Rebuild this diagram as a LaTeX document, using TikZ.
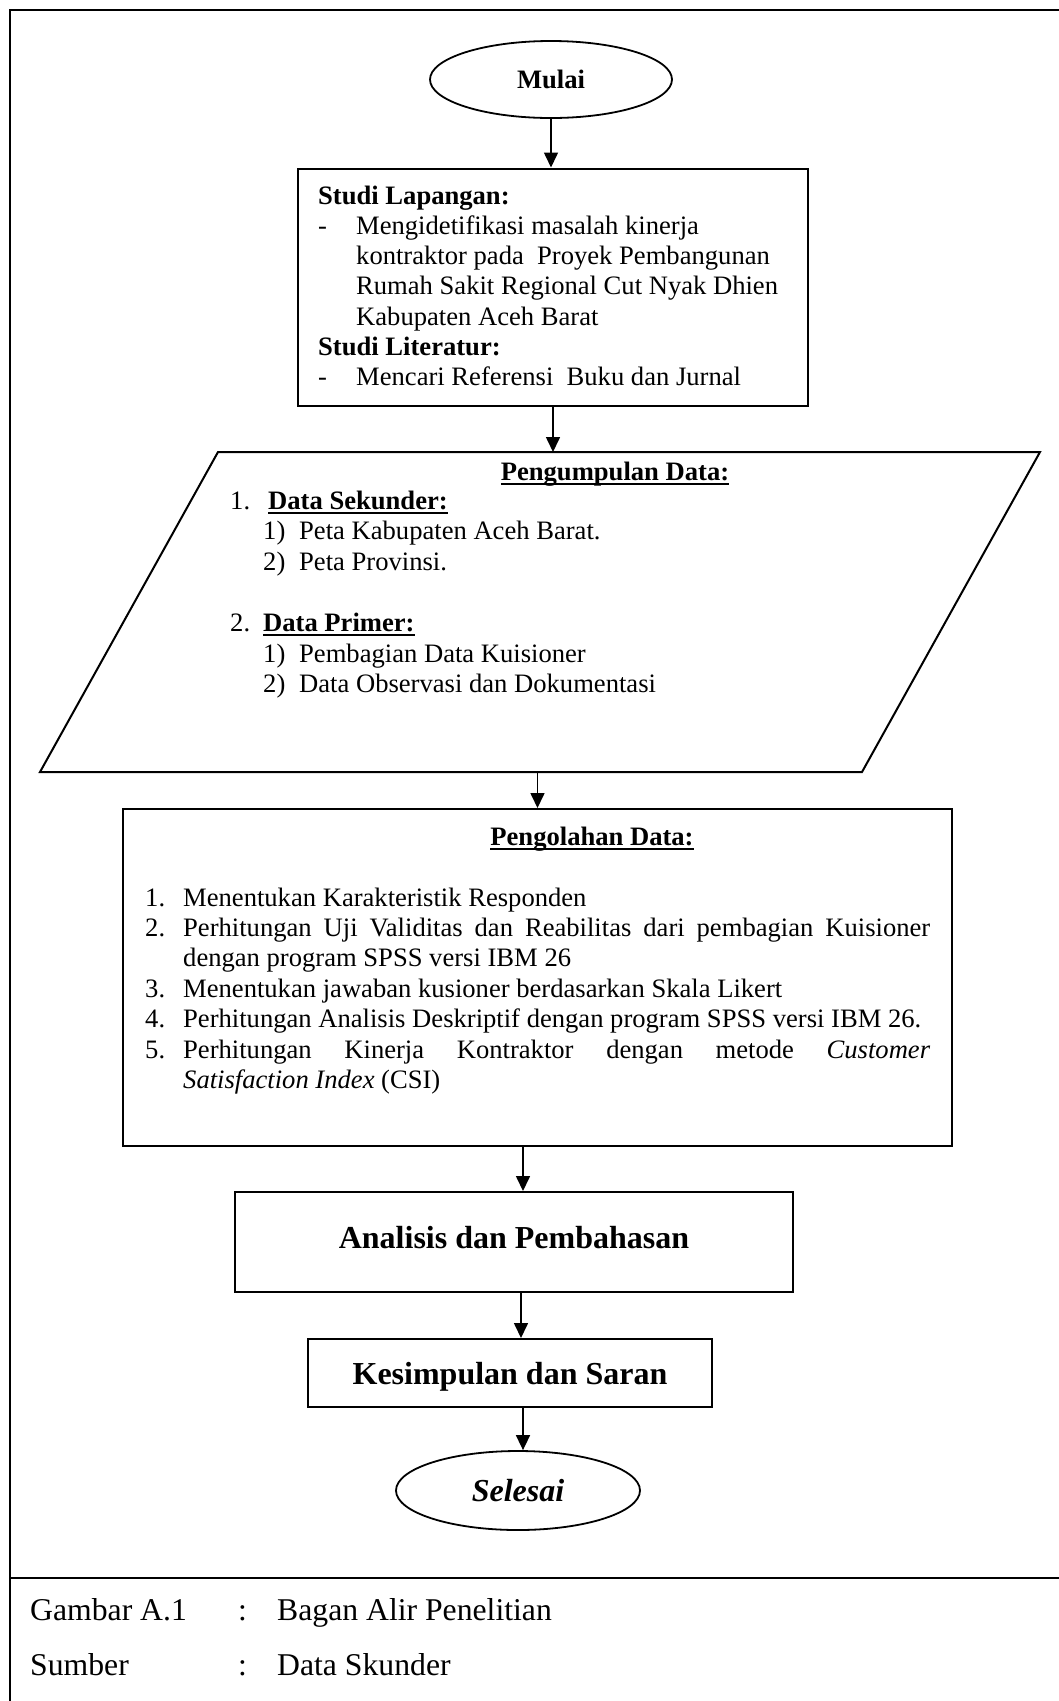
\documentclass[tikz,border=0pt]{standalone}
\usepackage{fontspec}
\setmainfont{Liberation Serif}
\usetikzlibrary{arrows.meta,shapes.geometric}
\newsavebox\ulbox
\newcommand\ulin[1]{\sbox\ulbox{#1}\rlap{\vrule width\wd\ulbox height -2.5pt depth 4.5pt}\usebox\ulbox}
\begin{document}
\begin{tikzpicture}[x=1pt,y=-1pt,
  font=\fontsize{26.6}{30.4}\selectfont,
  frameline/.style={line width=2pt},
  box/.style={draw, line width=2pt, inner sep=0pt},
  term/.style={draw, ellipse, line width=1.8pt, inner sep=0pt},
  arr/.style={line width=1.6pt, -{Triangle[length=15pt,width=14pt]}},
  txt/.style={inner sep=0pt},
  bigtxt/.style={font=\fontsize{32}{38}\selectfont\bfseries},
  captxt/.style={inner sep=0pt, anchor=base west, font=\fontsize{31.7}{38}\selectfont}]
\useasboundingbox (0,0) rectangle (1059,1701);
% outer frame
\draw[frameline] (10,1701) -- (10,10) -- (1059,10);
\draw[frameline] (10,1578) -- (1059,1578);

% start
\node[term, minimum width=242pt, minimum height=77pt] (mulai) at (551,79.5) {\bfseries Mulai};

% box 1
\node[box, minimum width=510pt, minimum height=237pt] (studi) at (553,287) {};
\node[txt, anchor=base west] (studitxt) at (318,204) {\fontsize{26.6}{30.3}\selectfont
\begin{tabular}[t]{@{}p{38pt}@{}l@{}}
\multicolumn{2}{@{}l@{}}{\bfseries Studi Lapangan:}\\
-& Mengidetifikasi masalah kinerja\\
 & kontraktor pada\ \ Proyek Pembangunan\\
 & Rumah Sakit Regional Cut Nyak Dhien\\
 & Kabupaten Aceh Barat\\
\multicolumn{2}{@{}l@{}}{\bfseries Studi Literatur:}\\
-& Mencari Referensi\ \ Buku dan Jurnal
\end{tabular}};

% parallelogram
\coordinate (pTL) at (218,452);
\coordinate (pTR) at (1040,452);
\coordinate (pBR) at (862,772);
\coordinate (pBL) at (40,772);
\draw[line width=2pt, line join=miter] (pTL) -- (pTR) -- (pBR) -- (pBL) -- cycle;
\node[txt, anchor=base] (pengtitle) at (615,480) {\bfseries\ulin{Pengumpulan Data:}};
\node[txt, anchor=base west] (pengtxt) at (230,509) {\fontsize{26.6}{30.6}\selectfont
\begin{tabular}[t]{@{}p{33pt}@{}p{36pt}@{}l@{}}
1. & \multicolumn{2}{@{}l@{}}{\hspace{5pt}\bfseries\ulin{Data Sekunder:}}\\
 & 1) & Peta Kabupaten Aceh Barat.\\
 & 2) & Peta Provinsi.\\
 & & \\
2. & \multicolumn{2}{@{}l@{}}{\bfseries\ulin{Data Primer:}}\\
 & 1) & Pembagian Data Kuisioner\\
 & 2) & Data Observasi dan Dokumentasi
\end{tabular}};

% box 3
\node[box, minimum width=829pt, minimum height=337pt] (olah) at (537.5,977.5) {};
\node[txt, anchor=base] (olahtitle) at (592,845) {\bfseries\ulin{Pengolahan Data:}};
\node[txt, anchor=base west] (olahtxt) at (145,906) {\fontsize{26.6}{30.4}\selectfont
\begin{tabular}[t]{@{}p{38pt}@{}p{747pt}@{}}
1. & Menentukan Karakteristik Responden\\
2. & Perhitungan Uji Validitas dan Reabilitas dari pembagian Kuisioner\linebreak dengan program SPSS versi IBM 26\\
3. & Menentukan jawaban kusioner berdasarkan Skala Likert\\
4. & Perhitungan Analisis Deskriptif dengan program SPSS versi IBM 26.\\
5. & Perhitungan Kinerja Kontraktor dengan metode \textit{Customer}\linebreak \textit{Satisfaction Index} (CSI)
\end{tabular}};

% box 4, 5
\node[box, minimum width=558pt, minimum height=100pt] (anal) at (514,1242) {};
\node[txt, bigtxt, anchor=base] (analtxt) at (514,1248) {Analisis dan Pembahasan};
\node[box, minimum width=404pt, minimum height=68pt] (kes) at (510,1373) {};
\node[txt, bigtxt, anchor=base] (kestxt) at (510,1384) {Kesimpulan dan Saran};

% end
\node[term, minimum width=244pt, minimum height=79pt, font=\fontsize{32}{38}\selectfont\bfseries\itshape] (selesai) at (518,1490.5) {Selesai};

% arrow columns
\coordinate (a3) at (523,0);
\coordinate (a4) at (521,0);
\coordinate (a5) at (523,0);

% connectors
\draw[arr] (mulai.south) -- (mulai.south |- studi.north);
\draw[arr] (studi.south) -- (studi.south |- pTL);
\draw[arr] (olah.north |- pBL) -- (olah.north);
\draw[arr] (olah.south -| a3) -- (anal.north -| a3);
\draw[arr] (anal.south -| a4) -- (kes.north -| a4);
\draw[arr] (kes.south -| a5) -- (selesai.north -| a5);

% caption
\node[captxt] (c1a) at (30,1620) {Gambar A.1};
\node[captxt] (c1b) at (238,1620) {:};
\node[captxt] (c1c) at (277,1620) {Bagan Alir Penelitian};
\node[captxt] (c2a) at (30,1675) {Sumber};
\node[captxt] (c2b) at (238,1675) {:};
\node[captxt] (c2c) at (277,1675) {Data Skunder};
\end{tikzpicture}
\end{document}
